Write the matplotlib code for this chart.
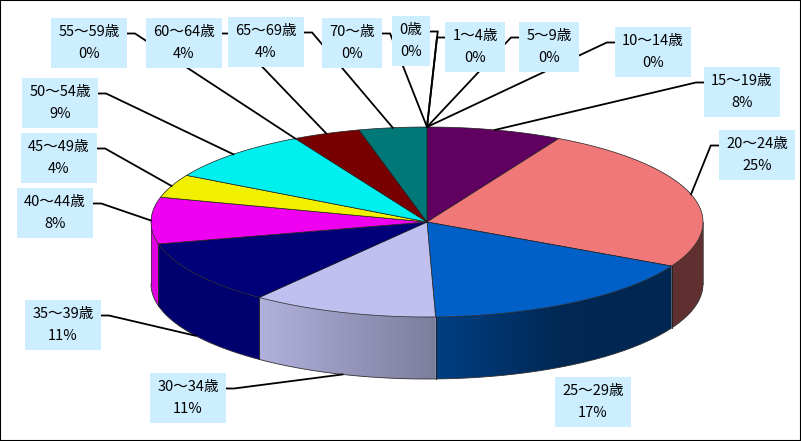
import numpy as np
import matplotlib
matplotlib.use('Agg')
import matplotlib.pyplot as plt
from matplotlib.patches import Polygon
from matplotlib.colors import to_rgb

plt.rcParams['font.family'] = ['Noto Sans CJK JP', 'DejaVu Sans']

# 年齢階級別の構成比 (%)
age_labels = ['0歳', '1～4歳', '5～9歳', '10～14歳', '15～19歳', '20～24歳',
              '25～29歳', '30～34歳', '35～39歳', '40～44歳', '45～49歳',
              '50～54歳', '55～59歳', '60～64歳', '65～69歳', '70～歳']
shares = [0, 0, 0, 0, 8, 25, 17, 11, 11, 8, 4, 9, 0, 4, 4, 0]
slice_colors = ['#600060', '#600060', '#600060', '#600060', '#600060', '#f07878',
                '#0060c8', '#c0c0f0', '#000078', '#f000f0', '#f0f000',
                '#00f0f0', '#780000', '#780000', '#007878', '#007878']

# ラベル位置 (ピクセル) と引き出し線の出る側
label_pos = [(411, 41), (475, 47), (549, 47), (653, 52), (742, 92), (757, 155),
             (593, 402), (188, 398), (63, 325), (55, 213), (59, 158),
             (60, 103), (89, 43), (184, 43), (266, 42), (352, 43)]
leader_side = ['R', 'L', 'L', 'L', 'L', 'L', None, 'R', 'R', 'R', 'R',
               'R', 'R', 'R', 'R', 'R']

# 3D円の形
cx, cy = 427, 222
rx, ry = 276, 95
depth = 62


def rim(phi, dy=0):
    # phi: 真上から時計回り (rad)
    return cx + rx * np.sin(phi), cy - ry * np.cos(phi) + dy


def shade(x):
    return np.interp(x, [150, 260, 443, 560, 703], [0.93, 0.92, 0.64, 0.42, 0.40])


fig = plt.figure(figsize=(8.01, 4.41), dpi=100)
ax = fig.add_axes([0, 0, 1, 1])
ax.set_xlim(0, 801)
ax.set_ylim(441, 0)
ax.set_xticks([])
ax.set_yticks([])
for s in ax.spines.values():
    s.set_linewidth(1.5)
    s.set_color('black')

vals = np.array(shares, dtype=float)
frac = vals / vals.sum()
edges = np.concatenate([[0], np.cumsum(frac)]) * 2 * np.pi

# 側面 (グラデーション)
for i in range(len(vals)):
    a0, a1 = edges[i], edges[i + 1]
    lo, hi = max(a0, np.pi / 2), min(a1, 3 * np.pi / 2)
    if hi <= lo:
        continue
    base = np.array(to_rgb(slice_colors[i]))
    ph = np.linspace(lo, hi, 100)
    tx_, ty_ = rim(ph)
    bx_, by_ = rim(ph[::-1], depth)
    pts = list(zip(tx_, ty_)) + list(zip(bx_, by_))
    poly = Polygon(pts, closed=True, facecolor='none', edgecolor='none')
    ax.add_patch(poly)
    x0, x1 = min(tx_.min(), bx_.min()) - 1, max(tx_.max(), bx_.max()) + 1
    y0, y1 = min(ty_.min(), by_.min()) - 1, max(ty_.max(), by_.max()) + 1
    xs = np.linspace(x0, x1, 300)
    img = np.clip(base[None, :] * shade(xs)[:, None], 0, 1)[None, :, :]
    im = ax.imshow(img, extent=(x0, x1, y1, y0), aspect='auto',
                   interpolation='bilinear', zorder=1)
    im.set_clip_path(poly)
    for a in (a0, a1):
        if np.pi / 2 <= a <= 3 * np.pi / 2:
            x, y = rim(a)
            ax.plot([x, x], [y, y + depth], color='#202020', lw=0.5, zorder=2)

ph = np.linspace(np.pi / 2, 3 * np.pi / 2, 200)
bx, by = rim(ph, depth)
ax.plot(bx, by, color='#303030', lw=0.6, zorder=2)
for a in (np.pi / 2, 3 * np.pi / 2):
    x, y = rim(a)
    ax.plot([x, x], [y, y + depth], color='#303030', lw=0.5, zorder=2)

# 上面
for i in range(len(vals)):
    a0, a1 = edges[i], edges[i + 1]
    if a1 - a0 <= 0:
        continue
    ph = np.linspace(a0, a1, max(int((a1 - a0) / 0.01), 2))
    xs, ys = rim(ph)
    pts = [(cx, cy)] + list(zip(xs, ys))
    ax.add_patch(Polygon(pts, closed=True, facecolor=slice_colors[i],
                         edgecolor='#202020', lw=0.5, zorder=3))

# ラベル
texts = []
for i, name in enumerate(age_labels):
    t = ax.text(label_pos[i][0], label_pos[i][1], '%s\n%d%%' % (name, shares[i]),
                ha='center', va='center', multialignment='center', fontsize=10.5,
                linespacing=1.7, zorder=6,
                bbox=dict(boxstyle='square,pad=0.5', facecolor='#cceeff', edgecolor='none'))
    texts.append(t)

fig.canvas.draw()
inv = ax.transData.inverted()
for i, t in enumerate(texts):
    if leader_side[i] is None:
        continue
    ext = t.get_bbox_patch().get_window_extent()
    (l, b), (r, tp) = inv.transform([(ext.x0, ext.y0), (ext.x1, ext.y1)])
    ly = label_pos[i][1] - 9.5
    if leader_side[i] == 'R':
        x_a, x_e = r, r + 8
    else:
        x_a, x_e = l, l - 8
    mid = (edges[i] + edges[i + 1]) / 2
    tx, ty = rim(mid)
    if np.cos(mid) < 0:
        ty += depth
    ax.plot([x_a, x_e, tx], [ly, ly, ty], color='black', lw=1.3, zorder=5,
            solid_joinstyle='miter')

fig.savefig('out.png', dpi=100)
